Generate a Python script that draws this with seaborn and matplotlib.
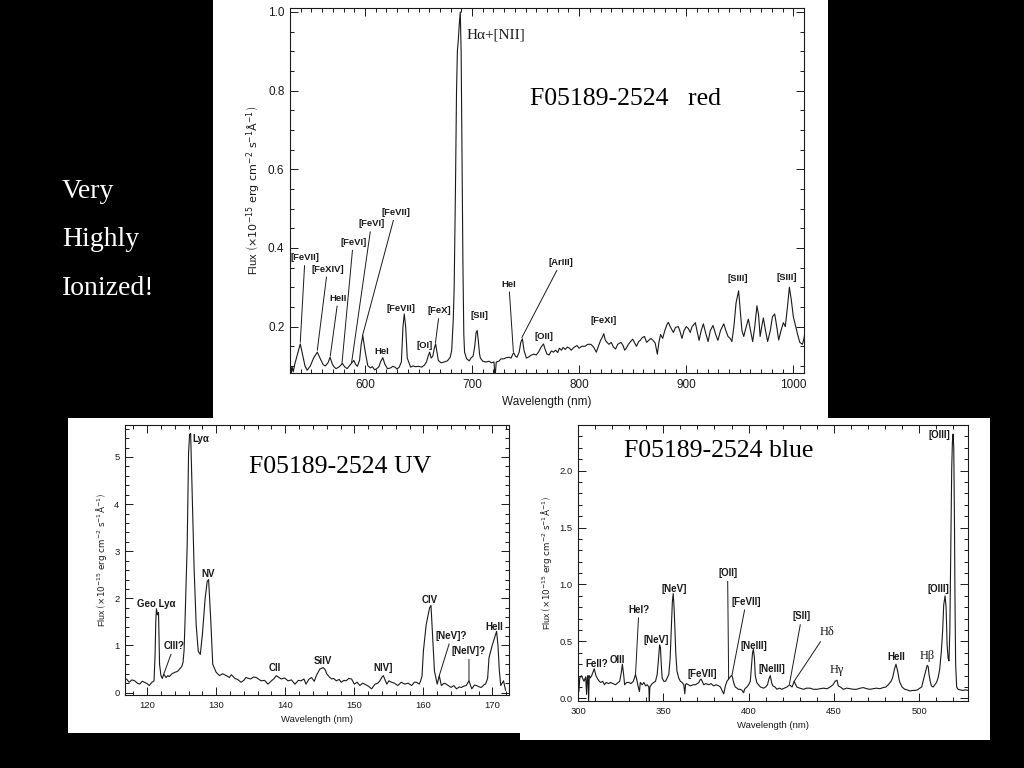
import matplotlib
matplotlib.use("Agg")
import matplotlib.pyplot as plt
from matplotlib.patches import Rectangle
from matplotlib.ticker import MultipleLocator, FormatStrFormatter
import seaborn as sns

# red spectrum (nm, flux)
red_wl = [530.5, 531.2, 532, 533, 534.5, 537, 539.6, 542, 544, 546, 549, 552, 555.5, 558, 561, 563,
          565.5, 567.4, 569.5, 571, 573, 576, 579, 581, 583.3, 586, 589.6, 591.5, 593, 595, 596.5,
          598, 600, 602.6, 605, 607, 609, 611, 613, 614.5, 616.7, 618.5, 621, 624, 626, 628, 630,
          632, 634, 635.5, 636.7, 638, 639.5, 642.6, 645, 647, 650, 653, 655.5, 657.4, 659, 660.4,
          661.8, 663.3, 664.8, 666, 667.5, 668.5, 671, 674, 677, 679.6, 681, 682.5, 683.3, 684.5,
          685.5, 686.3, 687.2, 688.1, 689, 689.8, 690.7, 691.5, 692.3, 693, 695, 697.4, 699, 701,
          702.5, 703.8, 704.8, 705.8, 707, 707.8, 710, 713, 716, 718, 720.5, 721.2, 721.8, 722.6,
          725, 727, 729.6, 732, 734.4, 736.5, 738, 739, 740.5, 741.9, 744, 745.5, 747, 748.5, 750.7,
          753, 755, 757.4, 760, 762, 764.5, 766.7, 768.5, 770, 772, 774, 776, 778, 780, 781.5,
          783.5, 785, 787, 789, 791, 792.6, 795, 798, 800, 802.5, 805.5, 808, 811, 813.5, 816, 818,
          820, 822, 823, 824.5, 826, 827.8, 830, 832, 834, 836, 839, 841, 842.5, 844, 846, 848, 850,
          852, 853.5, 855.6, 857, 859, 861, 863, 865, 867, 869, 871, 873, 874.5, 876, 878, 880, 882,
          883.3, 885, 887, 888, 890, 892.6, 894.5, 896, 898, 900, 902, 903.7, 905.5, 908.5, 910,
          912, 914, 916, 918, 920.4, 922.5, 925, 927.5, 929.6, 932, 935, 937, 939, 941, 942.6,
          944.5, 946.5, 948.9, 950.5, 952, 953.7, 956, 958, 960, 962, 964, 966, 967.5, 969, 970.5,
          972, 974, 976, 978.5, 980.5, 982.6, 984.5, 986.3, 988.5, 990.7, 992.5, 994.5, 996.3, 998,
          1000, 1001.8, 1004, 1006, 1008.5, 1010, 1011]
red_flux = [0.10, 0.082, 0.098, 0.085, 0.105, 0.13, 0.156, 0.125, 0.10, 0.089, 0.10, 0.12, 0.135,
            0.12, 0.103, 0.10, 0.108, 0.122, 0.105, 0.098, 0.093, 0.098, 0.106, 0.098, 0.093, 0.102,
            0.114, 0.103, 0.099, 0.115, 0.155, 0.177, 0.14, 0.101, 0.095, 0.098, 0.09, 0.093, 0.098,
            0.11, 0.121, 0.105, 0.093, 0.095, 0.099, 0.097, 0.092, 0.097, 0.11, 0.20, 0.232, 0.20,
            0.12, 0.097, 0.10, 0.098, 0.099, 0.097, 0.102, 0.11, 0.125, 0.135, 0.12, 0.125, 0.145,
            0.156, 0.13, 0.114, 0.108, 0.11, 0.113, 0.122, 0.14, 0.22, 0.30, 0.55, 0.80, 0.90, 0.93,
            0.97, 1.0, 0.90, 0.60, 0.35, 0.18, 0.135, 0.118, 0.113, 0.12, 0.125, 0.15, 0.185, 0.19,
            0.165, 0.13, 0.12, 0.112, 0.11, 0.112, 0.108, 0.11, 0.082, 0.082, 0.11, 0.112, 0.118,
            0.118, 0.121, 0.122, 0.12, 0.13, 0.133, 0.125, 0.122, 0.135, 0.16, 0.169, 0.14, 0.12,
            0.123, 0.127, 0.13, 0.128, 0.135, 0.148, 0.156, 0.14, 0.13, 0.128, 0.138, 0.135, 0.14,
            0.134, 0.145, 0.14, 0.147, 0.142, 0.148, 0.145, 0.14, 0.147, 0.152, 0.145, 0.15, 0.15,
            0.155, 0.155, 0.148, 0.135, 0.15, 0.165, 0.175, 0.182, 0.165, 0.16, 0.155, 0.16, 0.148,
            0.143, 0.155, 0.16, 0.152, 0.14, 0.145, 0.155, 0.162, 0.168, 0.158, 0.15, 0.162, 0.165,
            0.172, 0.175, 0.16, 0.165, 0.17, 0.165, 0.158, 0.13, 0.16, 0.18, 0.17, 0.19, 0.205, 0.211,
            0.2, 0.19, 0.185, 0.198, 0.2, 0.185, 0.17, 0.19, 0.2, 0.195, 0.185, 0.2, 0.21, 0.19,
            0.165, 0.19, 0.207, 0.185, 0.162, 0.19, 0.203, 0.18, 0.165, 0.19, 0.207, 0.19, 0.175,
            0.17, 0.162, 0.2, 0.26, 0.291, 0.24, 0.19, 0.175, 0.2, 0.219, 0.19, 0.162, 0.2, 0.253,
            0.23, 0.175, 0.2, 0.222, 0.19, 0.162, 0.19, 0.225, 0.232, 0.2, 0.166, 0.19, 0.21, 0.2,
            0.25, 0.30, 0.27, 0.225, 0.205, 0.18, 0.16, 0.155, 0.17, 0.19]

# UV spectrum (nm, flux)
uv_wl = [117.0, 117.4, 117.8, 118.2, 118.6, 118.9, 119.3, 119.6, 120.0, 120.3, 120.7, 121.0, 121.15,
         121.25, 121.35, 121.5, 121.65, 121.8, 122.0, 122.2, 122.4, 122.6, 122.75, 123.0, 123.2,
         123.6, 124.0, 124.4, 124.7, 125.0, 125.2, 125.35, 125.5, 125.8, 126.0, 126.15, 126.3,
         126.5, 126.8, 127.1, 127.4, 127.7, 128.0, 128.4, 128.7, 128.9, 129.2, 129.5, 129.8, 130.0,
         130.5, 130.9, 131.2, 131.6, 131.9, 132.2, 132.7, 133.1, 133.6, 134.0, 134.3, 134.7, 135.0,
         135.4, 135.8, 136.2, 136.5, 137.0, 137.5, 138.0, 138.4, 138.7, 139.0, 139.4, 139.9, 140.4,
         140.9, 141.4, 141.9, 142.3, 142.7, 143.0, 143.4, 143.8, 144.2, 144.5, 145.0, 145.5, 145.8,
         146.0, 146.4, 146.7, 147.0, 147.4, 147.8, 148.1, 148.5, 148.8, 149.2, 149.6, 150.0, 150.4,
         150.8, 151.2, 151.5, 152.0, 152.5, 153.0, 153.4, 153.7, 154.0, 154.2, 154.5, 154.7, 155.0,
         155.4, 155.8, 156.3, 156.8, 157.3, 157.8, 158.3, 158.7, 159.0, 159.4, 159.6, 159.8, 160.0,
         160.4, 160.9, 161.1, 161.3, 161.6, 162.0, 162.3, 162.6, 163.0, 163.3, 163.7, 164.0, 164.4,
         164.8, 165.2, 165.5, 165.9, 166.2, 166.6, 167.0, 167.4, 167.7, 168.1, 168.4, 168.8, 169.0,
         169.3, 169.5, 170.0, 170.3, 170.6, 170.8, 171.0, 171.2, 171.4, 171.6, 171.9]
uv_flux = [0.29, 0.22, 0.27, 0.25, 0.2, 0.18, 0.24, 0.22, 0.19, 0.15, 0.22, 0.25, 0.8, 1.5, 1.78,
           1.65, 1.7, 0.6, 0.36, 0.3, 0.39, 0.35, 0.32, 0.36, 0.34, 0.4, 0.43, 0.45, 0.5, 0.55,
           0.64, 0.9, 1.58, 3.13, 5.09, 5.48, 5.5, 4.39, 2.64, 1.44, 0.88, 0.81, 1.23, 2.0, 2.36,
           2.4, 1.58, 0.6, 0.5, 0.43, 0.36, 0.4, 0.38, 0.35, 0.32, 0.38, 0.3, 0.28, 0.22, 0.26,
           0.32, 0.3, 0.29, 0.33, 0.32, 0.28, 0.25, 0.26, 0.18, 0.25, 0.3, 0.36, 0.33, 0.29, 0.31,
           0.25, 0.27, 0.18, 0.26, 0.25, 0.29, 0.18, 0.28, 0.32, 0.24, 0.36, 0.5, 0.53, 0.48, 0.4,
           0.33, 0.29, 0.3, 0.25, 0.28, 0.22, 0.26, 0.25, 0.3, 0.29, 0.18, 0.22, 0.15, 0.2, 0.18,
           0.14, 0.08, 0.18, 0.2, 0.25, 0.33, 0.36, 0.25, 0.18, 0.25, 0.22, 0.2, 0.15, 0.22, 0.18,
           0.2, 0.15, 0.22, 0.22, 0.18, 0.25, 0.35, 0.88, 1.44, 1.8, 1.85, 1.3, 0.46, 0.18, 0.36,
           0.15, 0.2, 0.18, 0.14, 0.11, 0.15, 0.08, 0.12, 0.11, 0.14, 0.15, 0.25, 0.08, 0.16, 0.15,
           0.12, 0.11, 0.17, 0.18, 0.3, 0.74, 1.02, 1.16, 1.3, 1.0, 0.46, 0.15, 0.2, 0.25, 0.05]

# blue spectrum (nm, flux)
blue_wl = [300.5, 301.0, 302.0, 303.5, 304.5, 305.0, 305.4, 305.8, 306.2, 306.6, 307.2, 308.0, 309.0,
           309.5, 310.5, 311.5, 312.5, 313.3, 314.5, 315.5, 316.5, 318.0, 319.0, 320.5, 322.0, 323.5,
           324.4, 325.3, 326.0, 326.8, 327.3, 328.5, 329.8, 331.0, 332.4, 333.7, 334.5, 335.0, 336.0,
           336.5, 337.6, 338.6, 339.6, 340.6, 341.5, 341.8, 342.1, 342.5, 343.5, 344.4, 345.4, 346.4,
           347.2, 347.8, 348.3, 348.8, 349.3, 350.3, 351.3, 352.3, 353.2, 354.0, 354.6, 355.3, 355.8,
           356.3, 356.7, 357.3, 358.0, 359.0, 360.0, 361.0, 362.0, 362.6, 363.0, 363.5, 364.7, 365.9,
           367.5, 368.8, 370.0, 370.8, 371.5, 372.1, 372.8, 373.7, 375.0, 376.6, 378.0, 379.5, 381.0,
           382.5, 383.5, 384.4, 385.4, 386.0, 386.4, 387.3, 388.5, 389.3, 389.9, 390.5, 391.2, 392.2,
           393.2, 394.0, 395.1, 396.2, 397.1, 397.6, 398.2, 399.0, 400.0, 401.0, 401.7, 402.3, 402.8,
           403.4, 403.9, 404.8, 405.8, 407.0, 408.8, 410.0, 411.1, 411.9, 412.7, 413.5, 414.2, 415.5,
           416.6, 418.0, 419.5, 421.0, 422.4, 423.3, 424.0, 424.8, 425.5, 426.2, 426.7, 427.3, 428.3,
           430.0, 432.2, 434.0, 436.0, 438.0, 440.0, 442.0, 443.9, 446.0, 447.8, 449.5, 450.7, 451.8,
           452.6, 453.8, 455.6, 457.5, 459.5, 461.5, 463.3, 465.5, 467.3, 469.3, 471.2, 473.0, 475.0,
           477.0, 478.9, 480.5, 481.9, 483.5, 484.4, 485.6, 486.4, 487.4, 488.2, 488.7, 490.0, 491.6,
           493.0, 494.5, 496.0, 497.5, 499.0, 500.4, 501.5, 502.3, 503.5, 504.7, 505.3, 505.8, 506.5,
           507.2, 508.2, 509.2, 510.2, 511.1, 512.0, 513.0, 513.8, 514.4, 515.2, 515.8, 516.4, 517.0,
           517.5, 518.0, 518.3, 518.7, 519.1, 519.5, 519.9, 520.3, 520.7, 521.0, 521.4, 522.0, 522.8,
           524.0, 525.7, 527.0, 528.7]
blue_flux = [0.06, 0.18, 0.2, 0.15, 0.19, 0.035, 0.18, 0.2, -0.02, 0.2, 0.18, 0.2, 0.24, 0.26, 0.2,
             0.17, 0.15, 0.14, 0.15, 0.12, 0.14, 0.13, 0.14, 0.13, 0.12, 0.14, 0.15, 0.22, 0.3, 0.2,
             0.12, 0.14, 0.14, 0.13, 0.15, 0.21, 0.16, 0.12, 0.06, 0.14, 0.12, 0.14, 0.11, 0.12, 0.1,
             -0.02, 0.1, 0.11, 0.13, 0.14, 0.15, 0.21, 0.35, 0.47, 0.45, 0.3, 0.18, 0.15, 0.15, 0.18,
             0.21, 0.35, 0.59, 0.85, 0.92, 0.8, 0.65, 0.4, 0.24, 0.18, 0.15, 0.14, 0.12, 0.04, 0.12,
             0.13, 0.12, 0.11, 0.12, 0.12, 0.13, 0.14, 0.16, 0.17, 0.15, 0.12, 0.13, 0.12, 0.13, 0.11,
             0.12, 0.11, 0.1, 0.07, 0.04, 0.08, 0.11, 0.15, 0.175, 0.19, 0.2, 0.19, 0.14, 0.1, 0.09,
             0.08, 0.08, 0.07, 0.05, 0.08, 0.09, 0.1, 0.12, 0.15, 0.28, 0.4, 0.43, 0.36, 0.2, 0.14,
             0.12, 0.1, 0.09, 0.1, 0.12, 0.17, 0.2, 0.14, 0.11, 0.1, 0.08, 0.09, 0.08, 0.09, 0.1,
             0.11, 0.12, 0.11, 0.1, 0.13, 0.15, 0.13, 0.1, 0.09, 0.08, 0.09, 0.09, 0.08, 0.08, 0.085,
             0.09, 0.085, 0.1, 0.12, 0.15, 0.16, 0.11, 0.1, 0.08, 0.09, 0.085, 0.08, 0.08, 0.09, 0.095,
             0.085, 0.08, 0.085, 0.09, 0.085, 0.095, 0.1, 0.12, 0.15, 0.18, 0.26, 0.3, 0.24, 0.17,
             0.14, 0.1, 0.08, 0.075, 0.065, 0.07, 0.07, 0.075, 0.09, 0.1, 0.15, 0.22, 0.29, 0.28, 0.21,
             0.15, 0.11, 0.1, 0.12, 0.14, 0.18, 0.25, 0.41, 0.6, 0.82, 0.9, 0.8, 0.47, 0.35, 0.33, 0.6,
             1.0, 1.6, 2.02, 2.25, 2.32, 2.2, 1.58, 0.9, 0.3, 0.1, 0.08, 0.075, 0.07, 0.075, 0.07]

# line identifications: name, label position, point the leader goes to (None = no leader)
red_names = ["[FeVII]", "[FeXIV]", "HeII", "[FeVI]", "[FeVI]", "[FeVII]", "HeI", "[FeVII]", "[OI]",
             "[FeX]", "[SII]", "HeI", "[ArIII]", "[OII]", "[FeXI]", "[SIII]", "[SIII]"]
red_label_at = [(544, 0.375), (565, 0.346), (575, 0.272), (589, 0.414), (606, 0.461), (628.5, 0.49),
                (616, 0.136), (633.3, 0.246), (655.5, 0.153), (669.6, 0.24), (706.7, 0.228),
                (734.4, 0.308), (783, 0.363), (767.4, 0.174), (823.3, 0.215), (948, 0.322),
                (993.7, 0.326)]
red_leader_to = [(539.6, 0.16), (555.5, 0.14), (567.6, 0.125), (578.5, 0.105), (587.5, 0.108),
                 (597.5, 0.175), None, None, None, (665.8, 0.158), None, (738.6, 0.135),
                 (746.5, 0.172), None, None, None, None]

uv_names = ["Geo Ly\u03b1", "CIII?", "NV", "CII", "SiIV", "NIV]", "CIV", "[NeV]?", "[NeIV]?", "HeII"]
uv_label_at = [(121.3, 1.88), (123.9, 0.99), (128.8, 2.52), (138.5, 0.52), (145.5, 0.68),
               (154.1, 0.53), (160.9, 1.96), (164.1, 1.21), (166.6, 0.88), (170.2, 1.39)]
uv_leader_to = [None, (122.4, 0.39), None, None, None, None, None, (162.3, 0.36), (166.6, 0.25), None]

blue_names = ["FeII?", "OIII", "HeI?", "[NeV]", "[NeV]", "[FeVII]", "[OII]", "[FeVII]", "[NeIII]",
              "[NeIII]", "[SII]", "HeII", "[OIII]", "[OIII]"]
blue_label_at = [(310.9, 0.30), (323, 0.34), (335.7, 0.78), (346, 0.51), (356.5, 0.96),
                 (372.7, 0.21), (387.7, 1.10), (398.6, 0.85), (402.9, 0.46), (413.8, 0.26),
                 (431.2, 0.72), (486.4, 0.36), (511.1, 0.96), (511.7, 2.31)]
blue_leader_to = [None, None, (333.7, 0.21), None, None, None, (388.3, 0.17), (390.2, 0.2), None,
                  None, (424.0, 0.13), None, None, None]
blue_greek = ["H\u03b4", "H\u03b3", "H\u03b2"]
blue_greek_at = [(445.8, 0.58), (451.7, 0.25), (504.7, 0.37)]
blue_greek_to = [(426.7, 0.15), None, None]

FLUX_LABEL = r"Flux $\left(\times10^{-15}\ \mathrm{erg\ cm^{-2}\ s^{-1}\AA^{-1}}\right)$"
INK = "#1a1a1a"

sns.set_style("ticks")
plt.rcParams["font.family"] = ["Liberation Sans", "DejaVu Sans"]

fig = plt.figure(figsize=(10.24, 7.68), dpi=100, facecolor="black")

# white cards behind each plot
for card in ([0.208, 0.456, 0.601, 0.544], [0.0664, 0.0456, 0.4414, 0.4102],
             [0.5078, 0.0365, 0.459, 0.4193]):
    fig.add_artist(Rectangle(card[:2], card[2], card[3], transform=fig.transFigure,
                             facecolor="white", edgecolor="none", zorder=-1))


def panel(rect, wl, flux, xlim, ylim, xstep, xminor, ystep, yminor, yfmt, fs):
    ax = fig.add_axes(rect)
    sns.lineplot(x=wl, y=flux, ax=ax, color=INK, lw=0.8, estimator=None, sort=False)
    ax.set_xlim(xlim)
    ax.set_ylim(ylim)
    ax.xaxis.set_major_locator(MultipleLocator(xstep))
    ax.xaxis.set_minor_locator(MultipleLocator(xminor))
    ax.yaxis.set_major_locator(MultipleLocator(ystep))
    ax.yaxis.set_minor_locator(MultipleLocator(yminor))
    ax.yaxis.set_major_formatter(FormatStrFormatter(yfmt))
    ax.tick_params(which="both", direction="in", top=True, right=True, labelsize=fs,
                   width=0.7, colors=INK)
    ax.tick_params(which="major", length=6, pad=4)
    ax.tick_params(which="minor", length=3)
    for s in ax.spines.values():
        s.set_linewidth(0.8)
        s.set_color(INK)
    ax.set_xlabel("Wavelength (nm)", fontsize=fs, color=INK)
    ax.set_ylabel(FLUX_LABEL, fontsize=fs - 0.5, color=INK)
    return ax


def identify(ax, names, label_at, leader_to, fs, **style):
    for name, (tx, ty), tgt in zip(names, label_at, leader_to):
        if tgt is None:
            ax.text(tx, ty, name, ha="center", va="center", fontsize=fs, color=INK, **style)
        else:
            ax.annotate(name, xy=tgt, xytext=(tx, ty), ha="center", va="center", fontsize=fs,
                        color=INK, arrowprops=dict(arrowstyle="-", lw=0.7, color=INK,
                                                   shrinkA=0, shrinkB=0), **style)


# red
ax_r = panel([0.2832, 0.5143, 0.502, 0.4753], red_wl, red_flux, (530, 1010), (0.082, 1.01),
             100, 10, 0.2, 0.05, "%.1f", 8.5)
identify(ax_r, red_names, red_label_at, red_leader_to, 6.8, fontweight="bold")
ax_r.text(694.4, 0.942, "H\u03b1+[NII]", ha="left", va="center", fontsize=11,
          family="Liberation Serif", color=INK)
ax_r.text(0.652, 0.75, "F05189-2524   red", transform=ax_r.transAxes, ha="center", va="center",
          fontsize=18.5, family="Liberation Serif", color="black")

# UV
ax_u = panel([0.1221, 0.0951, 0.375, 0.3516], uv_wl, uv_flux, (116.8, 172.4), (-0.05, 5.68),
             10, 2, 1, 0.2, "%d", 6.8)
identify(ax_u, uv_names, uv_label_at, uv_leader_to, 7, fontweight="bold")
ax_u.text(126.55, 5.39, "Ly\u03b1", ha="left", va="center", fontsize=7, fontweight="bold",
          color=INK)
ax_u.text(0.56, 0.845, "F05189-2524 UV", transform=ax_u.transAxes, ha="center", va="center",
          fontsize=18.5, family="Liberation Serif", color="black")

# blue
ax_b = panel([0.5645, 0.0872, 0.3809, 0.3594], blue_wl, blue_flux, (300, 528.7), (-0.023, 2.40),
             50, 10, 0.5, 0.1, "%.1f", 6.8)
identify(ax_b, blue_names, blue_label_at, blue_leader_to, 7, fontweight="bold")
identify(ax_b, blue_greek, blue_greek_at, blue_greek_to, 9, family="Liberation Serif")
ax_b.text(0.36, 0.905, "F05189-2524 blue", transform=ax_b.transAxes, ha="center", va="center",
          fontsize=18.5, family="Liberation Serif", color="black")

# slide caption
for i, word in enumerate(["Very", "Highly", "Ionized!"]):
    fig.text(62 / 1024, 1 - (191 + 49 * i) / 768, word, ha="left", va="center", fontsize=20,
             family="Liberation Serif", color="white")

fig.savefig("out.png", dpi=100, facecolor="black")
